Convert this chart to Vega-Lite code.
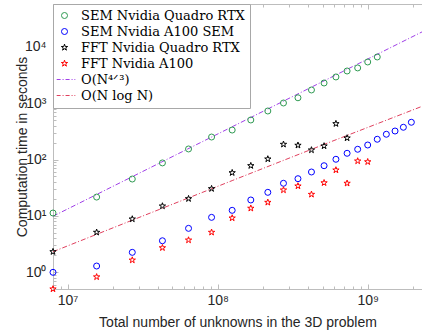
{
  "$schema": "https://vega.github.io/schema/vega-lite/v6.json",
  "autosize": {"type": "none"},
  "padding": {"left": 53, "top": 4, "right": 0, "bottom": 46},
  "width": 369,
  "height": 285,
  "config": {
    "view": {"stroke": null},
    "axis": {
      "grid": false,
      "domainColor": "#bdbdbd",
      "tickColor": "#bdbdbd",
      "labelColor": "#262626",
      "labelFont": "Liberation Sans",
      "labelFontSize": 14,
      "titleFont": "Liberation Sans",
      "titleFontSize": 14,
      "titleFontWeight": "normal",
      "titleColor": "#262626"
    },
    "legend": {
      "orient": "top-left",
      "offset": 0,
      "padding": 5,
      "strokeColor": "#a8a8a8",
      "fillColor": "white",
      "labelFont": "DejaVu Serif",
      "labelFontSize": 13,
      "labelColor": "black",
      "labelLimit": 300,
      "labelOffset": 10,
      "symbolSize": 36,
      "symbolStrokeWidth": 1,
      "rowPadding": 2
    }
  },
  "datasets": {
    "pts": [
      {"N": 8000000, "t": 11.2, "series": "SEM Nvidia Quadro RTX"},
      {"N": 15625000, "t": 21.5, "series": "SEM Nvidia Quadro RTX"},
      {"N": 27000000, "t": 45, "series": "SEM Nvidia Quadro RTX"},
      {"N": 42875000, "t": 87, "series": "SEM Nvidia Quadro RTX"},
      {"N": 64000000, "t": 154, "series": "SEM Nvidia Quadro RTX"},
      {"N": 91125000, "t": 251, "series": "SEM Nvidia Quadro RTX"},
      {"N": 125000000, "t": 334, "series": "SEM Nvidia Quadro RTX"},
      {"N": 166375000, "t": 504, "series": "SEM Nvidia Quadro RTX"},
      {"N": 216000000, "t": 728, "series": "SEM Nvidia Quadro RTX"},
      {"N": 274625000, "t": 1010, "series": "SEM Nvidia Quadro RTX"},
      {"N": 343000000, "t": 1250, "series": "SEM Nvidia Quadro RTX"},
      {"N": 421875000, "t": 1720, "series": "SEM Nvidia Quadro RTX"},
      {"N": 512000000, "t": 2290, "series": "SEM Nvidia Quadro RTX"},
      {"N": 614125000, "t": 2930, "series": "SEM Nvidia Quadro RTX"},
      {"N": 729000000, "t": 3740, "series": "SEM Nvidia Quadro RTX"},
      {"N": 857375000, "t": 4240, "series": "SEM Nvidia Quadro RTX"},
      {"N": 1000000000, "t": 5410, "series": "SEM Nvidia Quadro RTX"},
      {"N": 1157625000, "t": 6640, "series": "SEM Nvidia Quadro RTX"},
      {"N": 8000000, "t": 0.99, "series": "SEM Nvidia A100 SEM"},
      {"N": 15625000, "t": 1.28, "series": "SEM Nvidia A100 SEM"},
      {"N": 27000000, "t": 2.24, "series": "SEM Nvidia A100 SEM"},
      {"N": 42875000, "t": 3.6, "series": "SEM Nvidia A100 SEM"},
      {"N": 64000000, "t": 5.98, "series": "SEM Nvidia A100 SEM"},
      {"N": 91125000, "t": 9.38, "series": "SEM Nvidia A100 SEM"},
      {"N": 125000000, "t": 12.5, "series": "SEM Nvidia A100 SEM"},
      {"N": 166375000, "t": 19.1, "series": "SEM Nvidia A100 SEM"},
      {"N": 216000000, "t": 26.1, "series": "SEM Nvidia A100 SEM"},
      {"N": 274625000, "t": 37.8, "series": "SEM Nvidia A100 SEM"},
      {"N": 343000000, "t": 45.6, "series": "SEM Nvidia A100 SEM"},
      {"N": 421875000, "t": 60, "series": "SEM Nvidia A100 SEM"},
      {"N": 512000000, "t": 77.6, "series": "SEM Nvidia A100 SEM"},
      {"N": 614125000, "t": 101, "series": "SEM Nvidia A100 SEM"},
      {"N": 729000000, "t": 129, "series": "SEM Nvidia A100 SEM"},
      {"N": 857375000, "t": 152, "series": "SEM Nvidia A100 SEM"},
      {"N": 1000000000, "t": 181, "series": "SEM Nvidia A100 SEM"},
      {"N": 1157625000, "t": 229, "series": "SEM Nvidia A100 SEM"},
      {"N": 1331000000, "t": 281, "series": "SEM Nvidia A100 SEM"},
      {"N": 1520875000, "t": 321, "series": "SEM Nvidia A100 SEM"},
      {"N": 1728000000, "t": 374, "series": "SEM Nvidia A100 SEM"},
      {"N": 1953125000, "t": 459, "series": "SEM Nvidia A100 SEM"},
      {"N": 8000000, "t": 2.3, "series": "FFT Nvidia Quadro RTX"},
      {"N": 15625000, "t": 5.08, "series": "FFT Nvidia Quadro RTX"},
      {"N": 27000000, "t": 8.75, "series": "FFT Nvidia Quadro RTX"},
      {"N": 42875000, "t": 14.9, "series": "FFT Nvidia Quadro RTX"},
      {"N": 64000000, "t": 20.1, "series": "FFT Nvidia Quadro RTX"},
      {"N": 91125000, "t": 30.3, "series": "FFT Nvidia Quadro RTX"},
      {"N": 125000000, "t": 58.2, "series": "FFT Nvidia Quadro RTX"},
      {"N": 166375000, "t": 77.6, "series": "FFT Nvidia Quadro RTX"},
      {"N": 216000000, "t": 102, "series": "FFT Nvidia Quadro RTX"},
      {"N": 274625000, "t": 186, "series": "FFT Nvidia Quadro RTX"},
      {"N": 343000000, "t": 179, "series": "FFT Nvidia Quadro RTX"},
      {"N": 421875000, "t": 147.5, "series": "FFT Nvidia Quadro RTX"},
      {"N": 512000000, "t": 174, "series": "FFT Nvidia Quadro RTX"},
      {"N": 614125000, "t": 433, "series": "FFT Nvidia Quadro RTX"},
      {"N": 729000000, "t": 241, "series": "FFT Nvidia Quadro RTX"},
      {"N": 8000000, "t": 0.5, "series": "FFT Nvidia A100"},
      {"N": 15625000, "t": 0.82, "series": "FFT Nvidia A100"},
      {"N": 27000000, "t": 1.63, "series": "FFT Nvidia A100"},
      {"N": 42875000, "t": 2.7, "series": "FFT Nvidia A100"},
      {"N": 64000000, "t": 3.7, "series": "FFT Nvidia A100"},
      {"N": 91125000, "t": 5.08, "series": "FFT Nvidia A100"},
      {"N": 125000000, "t": 9.12, "series": "FFT Nvidia A100"},
      {"N": 166375000, "t": 13.6, "series": "FFT Nvidia A100"},
      {"N": 216000000, "t": 17.3, "series": "FFT Nvidia A100"},
      {"N": 274625000, "t": 28.7, "series": "FFT Nvidia A100"},
      {"N": 343000000, "t": 33.8, "series": "FFT Nvidia A100"},
      {"N": 421875000, "t": 24, "series": "FFT Nvidia A100"},
      {"N": 512000000, "t": 38.5, "series": "FFT Nvidia A100"},
      {"N": 614125000, "t": 65, "series": "FFT Nvidia A100"},
      {"N": 729000000, "t": 37.8, "series": "FFT Nvidia A100"},
      {"N": 857375000, "t": 94, "series": "FFT Nvidia A100"},
      {"N": 1000000000, "t": 91, "series": "FFT Nvidia A100"}
    ],
    "lines": [
      {"N": 8000000, "t": 9.8, "series": "O(N⁴ᐟ³)"},
      {"N": 2300000000, "t": 18500, "series": "O(N⁴ᐟ³)"},
      {"N": 8000000, "t": 2.3, "series": "O(N log N)"},
      {"N": 27000000, "t": 8.36, "series": "O(N log N)"},
      {"N": 125000000, "t": 42.2, "series": "O(N log N)"},
      {"N": 512000000, "t": 185.7, "series": "O(N log N)"},
      {"N": 2300000000, "t": 880, "series": "O(N log N)"}
    ]
  },
  "layer": [
    {
      "data": {"name": "lines"},
      "mark": {"type": "line", "strokeWidth": 1, "strokeDash": [5, 2, 1, 2], "clip": true},
      "encoding": {
        "x": {
          "field": "N", "type": "quantitative",
          "scale": {"type": "log", "domain": [8000000, 2300000000], "nice": false},
          "axis": {
            "orient": "top", "title": null, "labels": false,
            "values": [8000000, 9000000, 10000000, 20000000, 30000000, 40000000, 50000000, 60000000, 70000000, 80000000, 90000000, 100000000, 200000000, 300000000, 400000000, 500000000, 600000000, 700000000, 800000000, 900000000, 1000000000, 2000000000],
            "tickSize": {"condition": {"test": "indexof([10000000,100000000,1000000000], datum.value) >= 0", "value": -5}, "value": -3}
          }
        },
        "y": {"field": "t", "type": "quantitative"},
        "color": {"field": "series", "type": "nominal"}
      }
    },
    {
      "data": {"name": "pts"},
      "mark": {"type": "point", "filled": false, "strokeWidth": 1, "size": 36, "opacity": 1},
      "encoding": {
        "x": {
          "field": "N", "type": "quantitative",
          "scale": {"type": "log", "domain": [8000000, 2300000000], "nice": false},
          "axis": {
            "orient": "bottom",
            "title": "Total number of unknowns in the 3D problem",
            "titlePadding": 8,
            "labelPadding": 9,
            "values": [8000000, 9000000, 10000000, 20000000, 30000000, 40000000, 50000000, 60000000, 70000000, 80000000, 90000000, 100000000, 200000000, 300000000, 400000000, 500000000, 600000000, 700000000, 800000000, 900000000, 1000000000, 2000000000],
            "labelExpr": "datum.value == 10000000 ? '10⁷' : datum.value == 100000000 ? '10⁸' : datum.value == 1000000000 ? '10⁹' : ''",
            "tickSize": {"condition": {"test": "indexof([10000000,100000000,1000000000], datum.value) >= 0", "value": -5}, "value": -3}
          }
        },
        "y": {
          "field": "t", "type": "quantitative",
          "scale": {"type": "log", "domain": [0.5, 58000], "nice": false},
          "axis": {
            "title": "Computation time in seconds",
            "titlePadding": -5,
            "labelPadding": 12,
            "values": [0.5, 0.6, 0.7, 0.8, 0.9, 1, 2, 3, 4, 5, 6, 7, 8, 9, 10, 20, 30, 40, 50, 60, 70, 80, 90, 100, 200, 300, 400, 500, 600, 700, 800, 900, 1000, 2000, 3000, 4000, 5000, 6000, 7000, 8000, 9000, 10000, 20000, 30000, 40000, 50000],
            "labelExpr": "datum.value == 1 ? '10⁰' : datum.value == 10 ? '10¹' : datum.value == 100 ? '10²' : datum.value == 1000 ? '10³' : datum.value == 10000 ? '10⁴' : ''",
            "tickSize": {"condition": {"test": "indexof([1,10,100,1000,10000], datum.value) >= 0", "value": -5}, "value": -3}
          }
        },
        "color": {
          "field": "series", "type": "nominal",
          "scale": {
            "domain": ["SEM Nvidia Quadro RTX", "SEM Nvidia A100 SEM", "FFT Nvidia Quadro RTX", "FFT Nvidia A100", "O(N⁴ᐟ³)", "O(N log N)"],
            "range": ["#2f9a52", "#0000ff", "#000000", "#ff0000", "#a040e8", "#e0405e"]
          },
          "legend": {"title": null}
        },
        "shape": {
          "field": "series", "type": "nominal",
          "scale": {
            "domain": ["SEM Nvidia Quadro RTX", "SEM Nvidia A100 SEM", "FFT Nvidia Quadro RTX", "FFT Nvidia A100", "O(N⁴ᐟ³)", "O(N log N)"],
            "range": ["circle", "circle", "M0,-1.1L0.25,-0.34L1.05,-0.34L0.4,0.13L0.65,0.89L0,0.42L-0.65,0.89L-0.4,0.13L-1.05,-0.34L-0.25,-0.34Z", "M0,-1.1L0.25,-0.34L1.05,-0.34L0.4,0.13L0.65,0.89L0,0.42L-0.65,0.89L-0.4,0.13L-1.05,-0.34L-0.25,-0.34Z", "M-2.6,0L-1.3,0M-0.65,0L-0.3,0M0.35,0L1.7,0M2.35,0L2.7,0M3.3,0L3.6,0", "M-2.6,0L-1.3,0M-0.65,0L-0.3,0M0.35,0L1.7,0M2.35,0L2.7,0M3.3,0L3.6,0"]
          },
          "legend": {"title": null}
        }
      }
    }
  ],
  "resolve": {"axis": {"x": "independent"}}
}
